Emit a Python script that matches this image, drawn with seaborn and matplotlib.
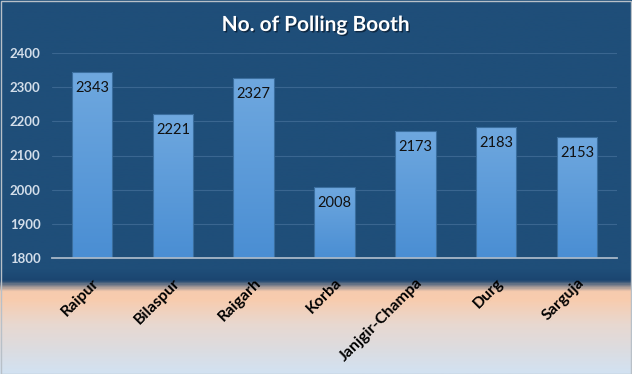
import numpy as np
import matplotlib
matplotlib.use("Agg")
import matplotlib.pyplot as plt
import matplotlib.patheffects as pe
from matplotlib.colors import LinearSegmentedColormap, to_rgb
import seaborn as sns
import pandas as pd

districts = ["Raipur", "Bilaspur", "Raigarh", "Korba", "Janjgir-Champa", "Durg", "Sarguja"]
booths = [2343, 2221, 2327, 2008, 2173, 2183, 2153]
y_ticks = [1800, 1900, 2000, 2100, 2200, 2300, 2400]
title = "No. of Polling Booth"

sns.set_style("white")
plt.rcParams['font.family'] = ['Lato', 'DejaVu Sans']

W, H = 632, 374
fig = plt.figure(figsize=(W / 100, H / 100), dpi=100)

# background gradient (top -> bottom)
stops = [
    (0.0, "#1F4E79"),
    (270 / H, "#1F4E79"),
    (281 / H, "#1B4570"),
    (292 / H, "#F6CBAE"),
    (300 / H, "#F8CCAE"),
    (325 / H, "#E8D8D0"),
    (350 / H, "#DCDCE0"),
    (1.0, "#D2E2F2"),
]
cmap_bg = LinearSegmentedColormap.from_list("bg", stops)
bg = fig.add_axes([0, 0, 1, 1], zorder=-10)
grad = np.linspace(0, 1, 600).reshape(-1, 1)
bg.imshow(grad, aspect="auto", cmap=cmap_bg, extent=[0, 1, 0, 1], origin="upper")
bg.set_xlim(0, 1)
bg.set_ylim(0, 1)
bg.axis("off")
bg.add_patch(plt.Rectangle((0.001, 0.001), 0.997, 0.997, fill=False,
                           edgecolor="#B8C0C8", lw=1.0, transform=bg.transAxes))

# plot axes
left, right, top, bottom = 51.6, 617.4, 53, 258
ax = fig.add_axes([left / W, (H - bottom) / H, (right - left) / W, (bottom - top) / H])
ax.patch.set_alpha(0)

df = pd.DataFrame({"district": districts, "booths": booths})
sns.barplot(data=df, x="district", y="booths", color="#5B9BD5", width=0.5,
            edgecolor="#3A6E9E", linewidth=0.8, ax=ax, zorder=3)
ax.set_ylim(1800, 2400)
ax.set_xlim(-0.5, len(districts) - 0.5)

# gradient fill on bars
cmap_bar = LinearSegmentedColormap.from_list("bar", ["#4A8ED3", "#6FA8DF"])
bgrad = np.linspace(0, 1, 256).reshape(-1, 1)
for p in ax.patches:
    x0, y0 = p.get_x(), p.get_y()
    w, h = p.get_width(), p.get_height()
    y_lo = max(y0, 1800)
    im = ax.imshow(bgrad, aspect="auto", cmap=cmap_bar, origin="lower",
                   extent=[x0, x0 + w, y_lo, y0 + h], zorder=3.5)
    im.set_clip_path(p)
    p.set_facecolor("none")
    p.set_zorder(4)
ax.set_xlim(-0.5, len(districts) - 0.5)
ax.set_ylim(1800, 2400)
ax.set_aspect("auto")

# value labels
for i, v in enumerate(booths):
    ax.annotate(str(v), (i, v), xytext=(0, -11.5), textcoords="offset points",
                ha="center", va="center", fontsize=10.5, color="#111111", zorder=6)

ax.set_yticks(y_ticks)
ax.yaxis.grid(True, color="#3A6690", lw=0.8, zorder=0)
ax.xaxis.grid(False)
for s in ["top", "right", "left"]:
    ax.spines[s].set_visible(False)
ax.spines["bottom"].set_color("#A8B8C8")
ax.spines["bottom"].set_linewidth(1.3)
ax.spines["bottom"].set_zorder(5)
ax.tick_params(axis="y", length=0, pad=8, labelsize=9.5, labelcolor="#D3DEEA")
ax.tick_params(axis="x", length=0, pad=13, labelsize=11.5, labelcolor="#000000")
for t in ax.get_yticklabels():
    t.set_fontweight("bold")
for t in ax.get_xticklabels():
    t.set_fontweight("bold")
    t.set_rotation(45)
    t.set_ha("right")
    t.set_rotation_mode("anchor")
ax.set_xlabel("")
ax.set_ylabel("")

fig.text(0.5, 1 - 25 / H, title, ha="center", va="center", fontsize=15,
         fontweight="bold", color="white",
         path_effects=[pe.withSimplePatchShadow(offset=(1, -1), shadow_rgbFace="#0A1E33", alpha=0.8)])

fig.savefig("out.png", dpi=100)
